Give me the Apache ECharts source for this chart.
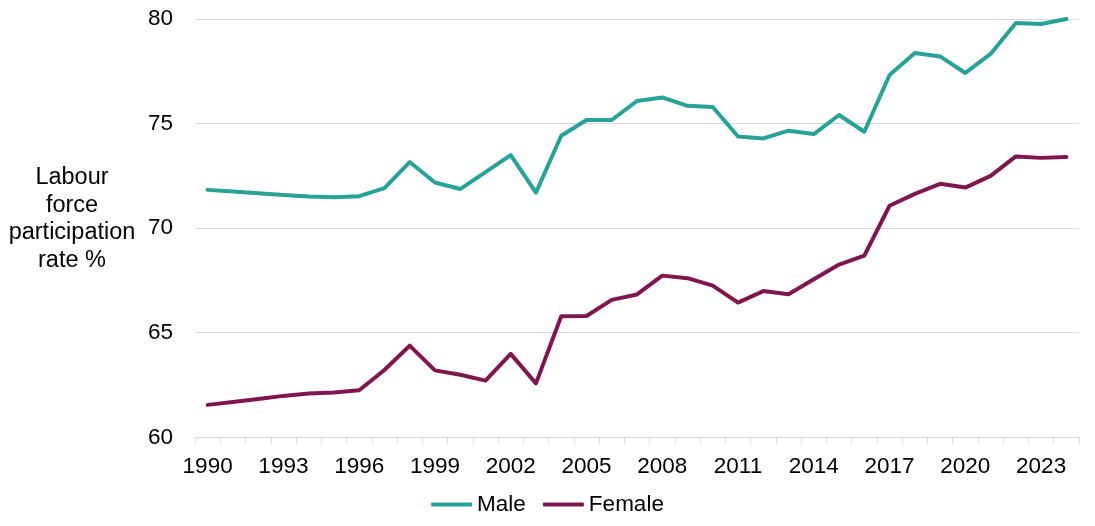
<!DOCTYPE html>
<html>
<head>
<meta charset="utf-8">
<script src="https://cdn.jsdelivr.net/npm/echarts@6/dist/echarts.min.js"></script>
<style>
html,body{margin:0;padding:0;background:#fff;}
#chart{width:1095px;height:526px;}
</style>
</head>
<body>
<div id="chart"></div>
<script>
const years = ['1990','1991','1992','1993','1994','1995','1996','1997','1998','1999','2000','2001','2002','2003','2004','2005','2006','2007','2008','2009','2010','2011','2012','2013','2014','2015','2016','2017','2018','2019','2020','2021','2022','2023','2024'];
const male = [71.83,71.75,71.67,71.59,71.51,71.48,71.53,71.91,73.16,72.18,71.87,72.68,73.49,71.70,74.42,75.17,75.17,76.08,76.25,75.85,75.79,74.38,74.29,74.66,74.50,75.41,74.61,77.32,78.37,78.21,77.42,78.33,79.81,79.76,80.0];
const female = [61.55,61.69,61.83,61.98,62.09,62.14,62.25,63.22,64.38,63.20,62.99,62.71,63.99,62.58,65.79,65.80,66.57,66.83,67.73,67.61,67.25,66.44,66.99,66.84,67.56,68.26,68.69,71.07,71.64,72.12,71.94,72.50,73.43,73.36,73.40];
const yTicks = {min: 60, max: 80, interval: 5};
const yTitle = 'Labour\nforce\nparticipation\nrate %';

const FONT = '"Liberation Sans", Arial, sans-serif';
const chart = echarts.init(document.getElementById('chart'), null, {renderer: 'canvas'});
chart.setOption({
  animation: false,
  backgroundColor: '#ffffff',
  grid: {left: 195, right: 16, top: 19, bottom: 88.7, containLabel: false},
  xAxis: {
    type: 'category',
    data: years,
    boundaryGap: true,
    axisLine: {show: true, lineStyle: {color: '#d9d9d9', width: 1}},
    axisTick: {show: true, interval: 0, length: 6, lineStyle: {color: '#d9d9d9'}},
    axisLabel: {interval: 2, color: '#000', fontSize: 22.5, fontFamily: FONT, margin: 18},
    splitLine: {show: false}
  },
  yAxis: {
    type: 'value',
    min: yTicks.min, max: yTicks.max, interval: yTicks.interval,
    axisLine: {show: false},
    axisTick: {show: false},
    axisLabel: {color: '#000', fontSize: 22.5, fontFamily: FONT, margin: 22},
    splitLine: {show: true, lineStyle: {color: '#d9d9d9', width: 1}}
  },
  legend: {
    data: ['Male', 'Female'],
    left: 'center',
    top: 488,
    icon: 'roundRect',
    itemWidth: 41,
    itemHeight: 4,
    itemGap: 17,
    textStyle: {color: '#000', fontSize: 22.5, fontFamily: FONT}
  },
  graphic: [{
    type: 'text',
    x: 72, y: 219,
    style: {
      text: yTitle,
      fill: '#000',
      font: '23.5px ' + FONT,
      align: 'center',
      verticalAlign: 'middle',
      lineHeight: 27.5
    }
  }],
  series: [
    {name: 'Male', type: 'line', data: male, symbol: 'none', smooth: false,
     lineStyle: {color: '#28A197', width: 4, cap: 'round', join: 'round'}, itemStyle: {color: '#28A197'}},
    {name: 'Female', type: 'line', data: female, symbol: 'none', smooth: false,
     lineStyle: {color: '#801650', width: 4, cap: 'round', join: 'round'}, itemStyle: {color: '#801650'}}
  ]
});
</script>
</body>
</html>
